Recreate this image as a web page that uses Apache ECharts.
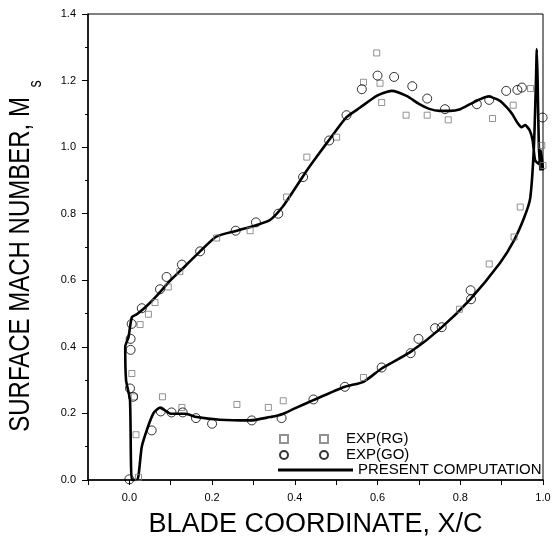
<!DOCTYPE html>
<html>
<head>
<meta charset="utf-8">
<script src="https://cdn.jsdelivr.net/npm/echarts@6/dist/echarts.min.js"></script>
<style>
  html, body { margin: 0; padding: 0; background: #fff; }
  #chart { width: 555px; height: 543px; }
</style>
</head>
<body>
<div id="chart"></div>
<script>
// computed Ms along the blade, trailing edge -> suction side -> leading edge -> pressure side -> trailing edge
const computation = [
  [1.0, 0.93], [0.995, 0.99], [0.99, 0.95], [0.981, 0.96], [0.975, 1.02], [0.968, 1.05],
  [0.957, 1.066], [0.948, 1.06], [0.94, 1.07], [0.925, 1.1], [0.912, 1.12], [0.895, 1.14],
  [0.868, 1.152], [0.85, 1.145], [0.825, 1.13], [0.8, 1.114], [0.775, 1.109], [0.75, 1.109],
  [0.725, 1.115], [0.7, 1.13], [0.67, 1.154], [0.634, 1.169], [0.598, 1.154], [0.558, 1.119],
  [0.525, 1.09], [0.485, 1.025], [0.455, 0.975], [0.429, 0.93], [0.4, 0.875], [0.37, 0.82],
  [0.34, 0.781], [0.308, 0.766], [0.26, 0.749], [0.211, 0.732], [0.171, 0.687], [0.13, 0.637],
  [0.098, 0.598], [0.066, 0.553], [0.038, 0.518], [0.018, 0.498], [0.006, 0.489], [-0.002, 0.43],
  [-0.01, 0.4], [-0.008, 0.3], [0.0015, 0.24], [0.006, 0.0], [0.019, 0.0], [0.03, 0.1],
  [0.045, 0.16], [0.058, 0.2], [0.066, 0.211], [0.074, 0.217], [0.085, 0.21], [0.098, 0.2],
  [0.122, 0.199], [0.135, 0.199], [0.163, 0.189], [0.219, 0.181], [0.292, 0.179], [0.34, 0.189],
  [0.364, 0.195], [0.4, 0.215], [0.445, 0.24], [0.521, 0.28], [0.566, 0.295], [0.61, 0.335],
  [0.679, 0.384], [0.751, 0.454], [0.824, 0.543], [0.896, 0.652], [0.93, 0.72], [0.955, 0.79],
  [0.969, 0.846], [0.978, 1.0], [0.983, 1.2], [0.985, 1.295], [0.987, 1.2], [0.99, 1.0],
  [0.994, 0.93]
];

// experiment (RG) - squares
const expRG = [
  [0.006, 0.32], [0.012, 0.25], [0.016, 0.136], [0.022, 0.008], [0.08, 0.25], [0.127, 0.218],
  [0.26, 0.227], [0.336, 0.218], [0.372, 0.238], [0.566, 0.308], [0.798, 0.513], [0.87, 0.649],
  [0.93, 0.73], [0.945, 0.82], [0.026, 0.467], [0.046, 0.498], [0.062, 0.533], [0.094, 0.58],
  [0.122, 0.626], [0.211, 0.727], [0.292, 0.749], [0.38, 0.85], [0.429, 0.97], [0.501, 1.03],
  [0.566, 1.195], [0.598, 1.283], [0.606, 1.192], [0.61, 1.134], [0.669, 1.096], [0.72, 1.096],
  [0.771, 1.082], [0.878, 1.086], [0.928, 1.126], [0.97, 1.176], [0.997, 1.005], [1.0, 0.945]
];

// experiment (GO) - circles
const expGO = [
  [0.0, 0.002], [0.0015, 0.275], [0.009, 0.25], [0.003, 0.391], [0.003, 0.424], [0.054, 0.149],
  [0.076, 0.206], [0.102, 0.203], [0.129, 0.203], [0.161, 0.186], [0.2, 0.169], [0.296, 0.179],
  [0.368, 0.186], [0.445, 0.242], [0.521, 0.28], [0.61, 0.338], [0.68, 0.381], [0.699, 0.424],
  [0.739, 0.456], [0.755, 0.459], [0.826, 0.543], [0.825, 0.57], [0.0056, 0.469], [0.03, 0.516],
  [0.074, 0.573], [0.09, 0.61], [0.127, 0.647], [0.171, 0.687], [0.257, 0.749], [0.306, 0.774],
  [0.36, 0.8], [0.42, 0.91], [0.483, 1.02], [0.525, 1.096], [0.562, 1.174], [0.6, 1.215],
  [0.64, 1.211], [0.684, 1.183], [0.72, 1.146], [0.763, 1.114], [0.84, 1.129], [0.87, 1.142],
  [0.911, 1.169], [0.938, 1.172], [0.949, 1.179], [0.999, 1.089]
];

const seriesNames = ['EXP(RG)', 'EXP(GO)', 'PRESENT COMPUTATION'];

const font = '"Liberation Sans", Arial, sans-serif';

const chart = echarts.init(document.getElementById('chart'));

chart.setOption({
  backgroundColor: '#fff',
  animation: false,
  grid: {
    left: 88,
    right: 12,
    top: 14,
    bottom: 59,
    show: true,
    borderColor: '#000',
    borderWidth: 1,
  },
  // y title is condensed in the original, so it is drawn as scaled text
  graphic: [
    {
      type: 'text',
      x: 21,
      y: 256,
      rotation: Math.PI / 2,
      scaleX: 0.8,
      style: {
        text: '{a|SURFACE MACH NUMBER, M}{b|s}',
        align: 'center',
        verticalAlign: 'middle',
        rich: {
          a: { fontFamily: font, fontSize: 30, fill: '#000', lineHeight: 48 },
          b: { fontFamily: font, fontSize: 18, fill: '#000', lineHeight: 18, verticalAlign: 'bottom', padding: [0, 0, 0, 12] },
        },
      },
    },
  ],
  legend: [
    {
      data: [
        { name: seriesNames[0], icon: 'path://M0,0h8v8h-8z M40,0h8v8h-8z' },
        { name: seriesNames[1], icon: 'path://M8,4a4,4 0 1,1 -8,0a4,4 0 1,1 8,0z M48,4a4,4 0 1,1 -8,0a4,4 0 1,1 8,0z' },
      ],
      orient: 'vertical',
      left: 274,
      top: 426,
      itemWidth: 74,
      itemHeight: 8,
      itemGap: 0,
      textStyle: { fontFamily: font, fontSize: 15, color: '#000', lineHeight: 16 },
      selectedMode: false,
    },
    {
      data: [{ name: seriesNames[2], icon: 'path://M0,0h100v4h-100z' }],
      left: 273,
      top: 457,
      itemWidth: 75,
      itemHeight: 3,
      symbolKeepAspect: false,
      itemStyle: { color: '#000' },
      textStyle: { fontFamily: font, fontSize: 15, color: '#000', lineHeight: 16 },
      selectedMode: false,
    },
  ],
  xAxis: {
    type: 'value',
    min: -0.1,
    max: 1.0,
    interval: 0.1,
    name: 'BLADE COORDINATE, X/C',
    nameLocation: 'middle',
    nameGap: 31,
    nameTextStyle: { fontFamily: font, fontSize: 27, color: '#000' },
    axisLine: { onZero: false, lineStyle: { color: '#000', width: 1.5 } },
    axisTick: { length: 5, lineStyle: { color: '#000' } },
    axisLabel: {
      margin: 12,
      fontFamily: font,
      fontSize: 11,
      color: '#000',
      formatter: (v) => {
        const k = Math.round(v * 10);
        return k >= 0 && k % 2 === 0 ? v.toFixed(1) : '';
      },
    },
    splitLine: { show: false },
  },
  yAxis: {
    type: 'value',
    min: 0,
    max: 1.4,
    interval: 0.2,
    axisLine: { onZero: false, lineStyle: { color: '#000', width: 1.5 } },
    axisTick: { length: 6, lineStyle: { color: '#000' } },
    minorTick: { show: true, splitNumber: 2, length: 3, lineStyle: { color: '#000' } },
    axisLabel: {
      margin: 12,
      fontFamily: font,
      fontSize: 11,
      color: '#000',
      formatter: (v) => v.toFixed(1),
    },
    splitLine: { show: false },
  },
  series: [
    {
      name: seriesNames[0],
      type: 'scatter',
      data: expRG,
      symbol: 'rect',
      symbolSize: 6,
      itemStyle: { color: 'rgba(0,0,0,0)', borderColor: '#777', borderWidth: 1 },
      z: 3,
    },
    {
      name: seriesNames[1],
      type: 'scatter',
      data: expGO,
      symbol: 'circle',
      symbolSize: 9,
      itemStyle: { color: 'rgba(0,0,0,0)', borderColor: '#000', borderWidth: 1 },
      z: 3,
    },
    {
      name: seriesNames[2],
      type: 'line',
      data: computation,
      symbol: 'none',
      smooth: 0.2,
      clip: true,
      lineStyle: { color: '#000', width: 2.6 },
      itemStyle: { color: '#000' },
      z: 2,
    },
  ],
});
</script>
</body>
</html>
